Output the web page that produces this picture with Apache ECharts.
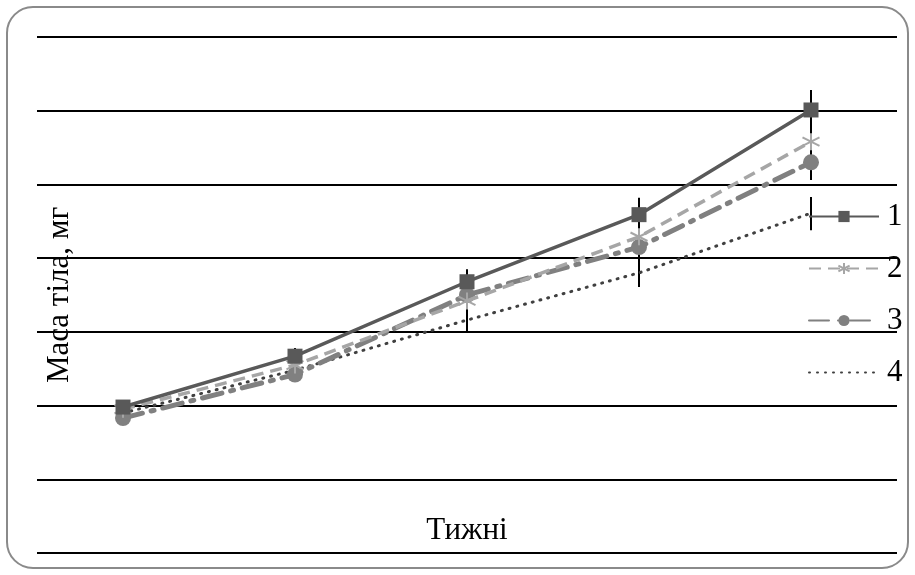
<!DOCTYPE html>
<html><head><meta charset="utf-8">
<script src="https://cdn.jsdelivr.net/npm/echarts@6/dist/echarts.min.js"></script>
<style>html,body{margin:0;padding:0;background:#fff}#c{width:915px;height:575px}</style>
</head><body><div id="c"></div>
<script>
const categories = ['1', '2', '3', '4', '5'];
const seriesNames = ['1', '2', '3', '4'];
const series1 = [1.98, 2.67, 3.68, 4.59, 6.01];
const series2 = [1.95, 2.55, 3.42, 4.29, 5.58];
const series3 = [1.83, 2.42, 3.50, 4.15, 5.30];
const series4 = [1.90, 2.48, 3.16, 3.80, 4.61];
// error bars: [category index, low, high]
const errorBars = [[1, 2.32, 2.78], [2, 3.00, 3.85], [3, 3.61, 4.82], [4, 5.06, 6.28], [4, 4.38, 4.83]];
const xTitle = 'Тижні';
const yTitle = 'Маса тіла, мг';

const font = '"Liberation Serif", "Times New Roman", serif';
const chart = echarts.init(document.getElementById('c'));
const star = 'path://M0,-10L0,10M-8.7,-5L8.7,5M-8.7,5L8.7,-5';
chart.setOption({
  animation: false,
  backgroundColor: '#fff',
  graphic: [{type: 'rect', shape: {x: 7, y: 7, width: 901, height: 561, r: 26}, style: {fill: 'none', stroke: '#8a8a8a', lineWidth: 2}, z: -1}],
  grid: {left: 37, right: 18, top: 37, bottom: 22},
  legend: {
    orient: 'vertical', left: 803, top: 196, itemWidth: 70, itemHeight: 14, itemGap: 21,
    data: [{name: seriesNames[0]}, {name: seriesNames[1]}, {name: seriesNames[2]}, {name: seriesNames[3], itemStyle: {opacity: 0}}],
    textStyle: {fontFamily: font, fontSize: 31, color: '#000', lineHeight: 31, padding: [0, 0, 0, 3]}
  },
  xAxis: {
    type: 'category', data: categories, boundaryGap: true,
    axisLine: {show: false}, axisTick: {show: false}, axisLabel: {show: false},
    name: xTitle, nameLocation: 'middle', nameGap: -38,
    nameTextStyle: {fontFamily: font, fontSize: 31, color: '#000'}
  },
  yAxis: {
    type: 'value', min: 0, max: 7, interval: 1,
    axisLine: {show: false}, axisTick: {show: false}, axisLabel: {show: false},
    splitLine: {lineStyle: {color: '#000', width: 2}},
    name: yTitle, nameLocation: 'middle', nameGap: -38, nameRotate: 90,
    nameTextStyle: {fontFamily: font, fontSize: 31, color: '#000'}
  },
  series: [
    {name: seriesNames[0], type: 'line', data: series1, symbol: 'rect', symbolSize: 15,
     itemStyle: {color: '#595959'}, lineStyle: {color: '#595959', width: 3.5}, z: 5},
    {name: seriesNames[1], type: 'line', data: series2, symbol: star, symbolSize: 17,
     itemStyle: {color: '#a6a6a6', borderColor: '#a6a6a6', borderWidth: 2},
     lineStyle: {color: '#a6a6a6', width: 3.5, type: [12, 7]}, z: 4},
    {name: seriesNames[2], type: 'line', data: series3, symbol: 'circle', symbolSize: 16,
     itemStyle: {color: '#808080'}, lineStyle: {color: '#808080', width: 5, type: [20, 9, 3, 9], cap: 'round'}, z: 3},
    {name: seriesNames[3], type: 'line', data: series4, symbol: 'none', showSymbol: false,
     itemStyle: {color: '#404040'}, lineStyle: {color: '#404040', width: 3, type: [1, 7], cap: 'round'}, z: 2},
    {type: 'custom', data: errorBars, z: 1, silent: true,
     renderItem: function (params, api) {
       const a = api.coord([api.value(0), api.value(1)]);
       const b = api.coord([api.value(0), api.value(2)]);
       return {type: 'line', shape: {x1: a[0], y1: a[1], x2: b[0], y2: b[1]}, style: {stroke: '#000', lineWidth: 2}};
     }}
  ]
});
</script></body></html>
